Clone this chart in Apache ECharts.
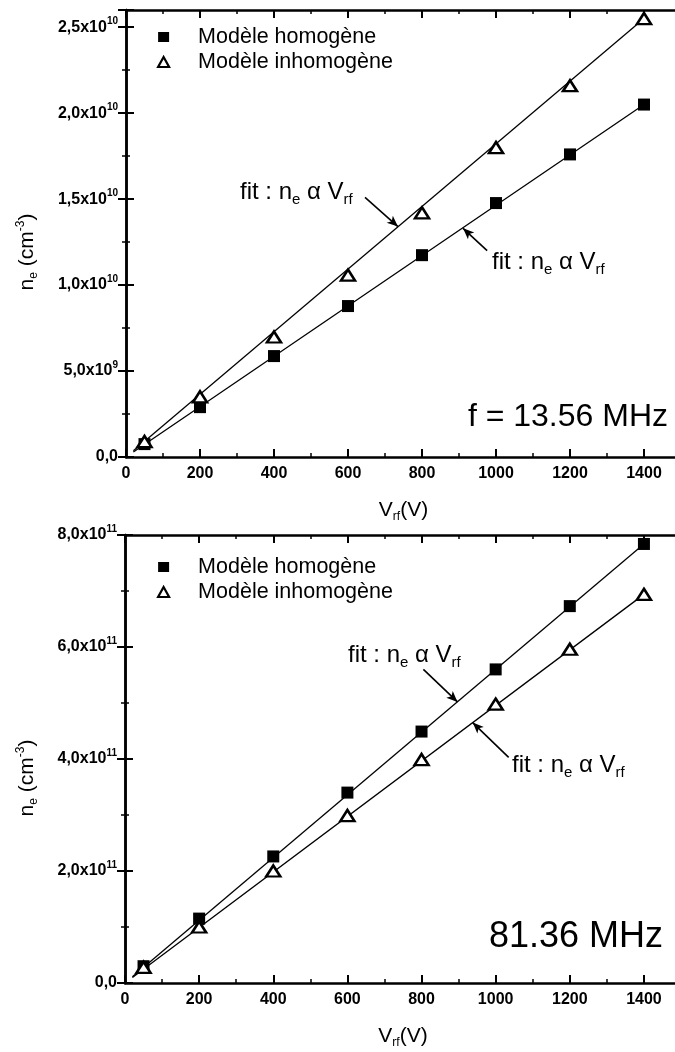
<!DOCTYPE html>
<html><head><meta charset="utf-8">
<script src="https://cdn.jsdelivr.net/npm/echarts@6/dist/echarts.min.js"></script>
<style>html,body{margin:0;padding:0;background:#fff}#c{width:675px;height:1052px}</style>
</head><body><div id="c"></div>
<script>
// ---------- data ----------
const voltages = [50, 200, 400, 600, 800, 1000, 1200, 1400];
const top_homogene   = [0.75e9, 2.9e9, 5.87e9, 8.78e9, 11.74e9, 14.77e9, 17.6e9, 20.5e9];
const top_inhomogene = [0.9e9, 3.5e9, 6.98e9, 10.58e9, 14.2e9, 18.0e9, 21.6e9, 25.5e9];
const bot_homogene   = [0.30e11, 1.15e11, 2.26e11, 3.40e11, 4.49e11, 5.60e11, 6.73e11, 7.84e11];
const bot_inhomogene = [0.28e11, 1.0e11, 2.0e11, 2.99e11, 3.99e11, 4.98e11, 5.96e11, 6.94e11];
const fitV = [20, 1400];
const top_fit_hom = [0.29e9, 20.5e9];
const top_fit_inh = [0.36e9, 25.5e9];
const bot_fit_hom = [0.11e11, 7.84e11];
const bot_fit_inh = [0.10e11, 6.94e11];
const xTicks = [0, 200, 400, 600, 800, 1000, 1200, 1400];
const xTickLabels = ['0', '200', '400', '600', '800', '1000', '1200', '1400'];
const topYTicks = [0, 5e9, 1e10, 1.5e10, 2e10, 2.5e10];
const topYMant = ['0,0', '5,0x10', '1,0x10', '1,5x10', '2,0x10', '2,5x10'];
const topYExp  = ['', '9', '10', '10', '10', '10'];
const botYTicks = [0, 2e11, 4e11, 6e11, 8e11];
const botYMant = ['0,0', '2,0x10', '4,0x10', '6,0x10', '8,0x10'];
const botYExp  = ['', '11', '11', '11', '11'];
// arrows (data coordinates): [fromV, fromN, toV, toN]
const top_arrow_inh = [646, 15.1e9, 735, 13.4e9];
const top_arrow_hom = [976, 12.0e9, 911, 13.3e9];
const bot_arrow_hom = [805, 5.6e11, 897, 5.02e11];
const bot_arrow_inh = [1035, 4.03e11, 938, 4.65e11];
const legendNames = ['Modèle homogène', 'Modèle inhomogène'];
const freqTop = 'f = 13.56 MHz';
const freqBot = '81.36 MHz';

// ---------- styles ----------
const FONT = 'Liberation Sans, Arial, sans-serif';
const tickLine = {color: '#000', width: 2};
function xAxes(grid, showLabels, pos) {
  return {
    type: 'value', gridIndex: grid, position: pos, min: 0, max: 1500, interval: 200,
    axisLine: {onZero: false, lineStyle: {color: '#000', width: 2.5}},
    axisTick: {inside: true, length: 8, lineStyle: tickLine},
    minorTick: {show: true, splitNumber: 2, length: 4, lineStyle: {color: '#000', width: 1.5}},
    splitLine: {show: false},
    axisLabel: {
      show: showLabels, margin: 9, color: '#000', fontFamily: FONT, fontSize: 16, fontWeight: 'bold',
      formatter: v => { const i = xTicks.indexOf(v); return i < 0 ? '' : xTickLabels[i]; }
    },
    name: showLabels ? '{v|V}{s|rf}{v|(V)}' : '', nameLocation: 'middle', nameGap: 41,
    nameTextStyle: {rich: {
      v: {fontFamily: FONT, fontSize: 21, color: '#000', verticalAlign: 'middle'},
      s: {fontFamily: FONT, fontSize: 12, color: '#000', verticalAlign: 'middle', padding: [13, 0, 0, 0]}
    }}
  };
}
function yAxes(grid, showLabels, pos, max, interval, ticks, mant, exp) {
  return {
    type: 'value', gridIndex: grid, position: pos, min: 0, max: max, interval: interval,
    axisLine: {lineStyle: {color: '#000', width: 2.5}},
    axisTick: {inside: true, length: 8, lineStyle: tickLine},
    minorTick: {show: true, splitNumber: 2, length: 4, lineStyle: {color: '#000', width: 1.5}},
    splitLine: {show: false},
    axisLabel: {
      show: showLabels, margin: 8,
      formatter: v => {
        const i = ticks.findIndex(t => Math.abs(t - v) < max * 1e-6);
        if (i < 0) return '';
        return exp[i] ? '{m|' + mant[i] + '}{e|' + exp[i] + '}' : '{m|' + mant[i] + '}';
      },
      rich: {
        m: {fontFamily: FONT, fontSize: 16, fontWeight: 'bold', color: '#000', verticalAlign: 'middle'},
        e: {fontFamily: FONT, fontSize: 10, fontWeight: 'bold', color: '#000', verticalAlign: 'middle', padding: [0, 0, 12, 0]}
      }
    }
  };
}
function fitSeries(xi, yi, ys, arrow) {
  return {
    type: 'line', xAxisIndex: xi, yAxisIndex: yi, symbol: 'none', z: 1, silent: true,
    data: fitV.map((v, i) => [v, ys[i]]),
    lineStyle: {color: '#000', width: 1.3},
    markLine: {
      silent: true, symbol: ['none', 'arrow'], symbolSize: [7, 11], animation: false,
      lineStyle: {color: '#000', width: 1.6, type: 'solid'}, label: {show: false},
      data: [[{coord: [arrow[0], arrow[1]]}, {coord: [arrow[2], arrow[3]]}]]
    }
  };
}
function homSeries(xi, yi, ys) {
  return {type: 'scatter', name: legendNames[0], xAxisIndex: xi, yAxisIndex: yi, z: 3,
    symbol: 'rect', symbolSize: 12, itemStyle: {color: '#000', opacity: 1},
    data: voltages.map((v, i) => [v, ys[i]])};
}
function inhSeries(xi, yi, ys) {
  return {type: 'scatter', name: legendNames[1], xAxisIndex: xi, yAxisIndex: yi, z: 4,
    symbol: 'triangle', symbolSize: [14, 11], itemStyle: {color: '#fff', borderColor: '#000', borderWidth: 2.5, opacity: 1},
    data: voltages.map((v, i) => [v, ys[i]])};
}
function legend(top) {
  return {
    orient: 'vertical', left: 157, top: top, padding: 0, itemGap: 3, itemWidth: 11, itemHeight: 10,
    selectedMode: false,
    data: [
      {name: legendNames[0], icon: 'rect', itemStyle: {color: '#000', opacity: 1}},
      {name: legendNames[1], icon: 'triangle', itemStyle: {color: '#fff', borderColor: '#000', borderWidth: 2.2, opacity: 1}}
    ],
    textStyle: {fontFamily: FONT, fontSize: 21.5, color: '#000', lineHeight: 22, padding: [0, 0, 0, 24]}
  };
}
const fitRich = {
  t: {fontFamily: FONT, fontSize: 24, color: '#000', verticalAlign: 'middle'},
  s: {fontFamily: FONT, fontSize: 15, color: '#000', verticalAlign: 'middle', padding: [15, 0, 0, 0]}
};
const fitText = '{t|fit : n}{s|e}{t| α V}{s|rf}';
function fitLabel(x, y) {
  return {type: 'text', x: x, y: y, z: 10, style: {text: fitText, rich: fitRich, align: 'left', verticalAlign: 'middle'}};
}
const yTitleRich = {
  n: {fontFamily: FONT, fontSize: 21, color: '#000', verticalAlign: 'middle'},
  s: {fontFamily: FONT, fontSize: 12, color: '#000', verticalAlign: 'middle', padding: [13, 0, 0, 0]},
  p: {fontFamily: FONT, fontSize: 12, color: '#000', verticalAlign: 'middle', padding: [0, 0, 13, 0]}
};
function yTitle(x, y) {
  return {type: 'text', x: x, y: y, rotation: Math.PI / 2, z: 10,
    style: {text: '{n|n}{s|e}{n| (cm}{p|-3}{n|)}', rich: yTitleRich, align: 'center', verticalAlign: 'middle'}};
}

const chart = echarts.init(document.getElementById('c'), null, {renderer: 'canvas'});
chart.setOption({
  animation: false,
  backgroundColor: '#fff',
  grid: [
    {left: 126, top: 10, width: 555, height: 447, containLabel: false, outerBoundsMode: 'none'},
    {left: 125, top: 535, width: 556, height: 448, containLabel: false, outerBoundsMode: 'none'}
  ],
  xAxis: [xAxes(0, true, 'bottom'), xAxes(0, false, 'top'), xAxes(1, true, 'bottom'), xAxes(1, false, 'top')],
  yAxis: [
    yAxes(0, true, 'left', 2.6e10, 5e9, topYTicks, topYMant, topYExp),
    yAxes(0, false, 'right', 2.6e10, 5e9, topYTicks, topYMant, topYExp),
    yAxes(1, true, 'left', 8e11, 2e11, botYTicks, botYMant, botYExp),
    yAxes(1, false, 'right', 8e11, 2e11, botYTicks, botYMant, botYExp)
  ],
  legend: [legend(26), legend(556)],
  series: [
    fitSeries(0, 0, top_fit_hom, top_arrow_hom),
    fitSeries(0, 0, top_fit_inh, top_arrow_inh),
    homSeries(0, 0, top_homogene),
    inhSeries(0, 0, top_inhomogene),
    fitSeries(2, 2, bot_fit_hom, bot_arrow_hom),
    fitSeries(2, 2, bot_fit_inh, bot_arrow_inh),
    inhSeries(2, 2, bot_inhomogene),
    homSeries(2, 2, bot_homogene)
  ],
  graphic: [
    yTitle(27, 252),
    yTitle(27, 778),
    fitLabel(240, 192),
    fitLabel(492, 262),
    fitLabel(348, 655),
    fitLabel(512, 765),
    {type: 'text', x: 668, y: 417, z: 10, style: {text: freqTop, fontFamily: FONT, fontSize: 32, fill: '#000', align: 'right', verticalAlign: 'middle'}},
    {type: 'text', x: 663, y: 937, z: 10, style: {text: freqBot, fontFamily: FONT, fontSize: 36, fill: '#000', align: 'right', verticalAlign: 'middle'}}
  ]
});
</script></body></html>
